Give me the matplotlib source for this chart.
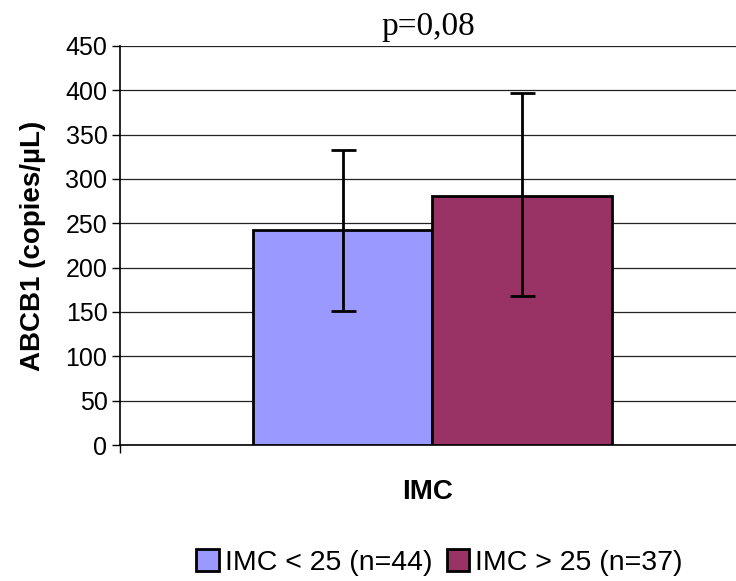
import numpy as np
import matplotlib.pyplot as plt

plt.rcParams['font.family'] = ['Liberation Sans', 'DejaVu Sans']

groups = ['IMC < 25 (n=44)', 'IMC > 25 (n=37)']
means = [242, 281]
err_low = [151, 168]
err_high = [333, 397]
colors = ['#9999FF', '#993366']
yticks = np.arange(0, 451, 50)

fig = plt.figure(figsize=(7.36, 5.81), dpi=100)
ax = fig.add_axes([0.163, 0.234, 0.837, 0.687])

width = 1.0
offsets = [-0.5, 0.5]
for name, m, lo, hi, c, off in zip(groups, means, err_low, err_high, colors, offsets):
    ax.bar(off * width, m, width=width, color=c, edgecolor='black', linewidth=2,
           label=name, zorder=3)
    ax.errorbar(off * width, m, yerr=[[m - lo], [hi - m]], fmt='none',
                ecolor='black', elinewidth=2, capsize=9, capthick=2, zorder=4)

ax.set_xlim(-1.74, 1.69)
ax.set_ylim(0, 450)
ax.set_yticks(yticks)
ax.tick_params(axis='y', labelsize=18, length=6, width=1, direction='out', pad=3)
ax.set_xticks([-1.74])
ax.set_xticklabels([])
ax.tick_params(axis='x', length=6, width=1, direction='out')
ax.yaxis.grid(True, color='#222222', linewidth=0.9)
ax.set_axisbelow(True)
ax.spines['top'].set_visible(False)
ax.spines['right'].set_visible(False)
ax.spines['left'].set_linewidth(1.2)
ax.spines['bottom'].set_linewidth(1.2)

ax.set_ylabel('ABCB1 (copies/µL)', fontsize=20, fontweight='bold', labelpad=14)
ax.set_xlabel('IMC', fontsize=20, fontweight='bold', labelpad=15)
ax.set_title('p=0,08', fontsize=24, family=['Liberation Serif'], pad=8)

fig.legend(loc='lower center', bbox_to_anchor=(0.597, -0.035), ncol=2, frameon=False,
           fontsize=20.5, handlelength=0.8, handleheight=0.8, handletextpad=0.2,
           columnspacing=0.5)

fig.savefig('out.png', dpi=100)
